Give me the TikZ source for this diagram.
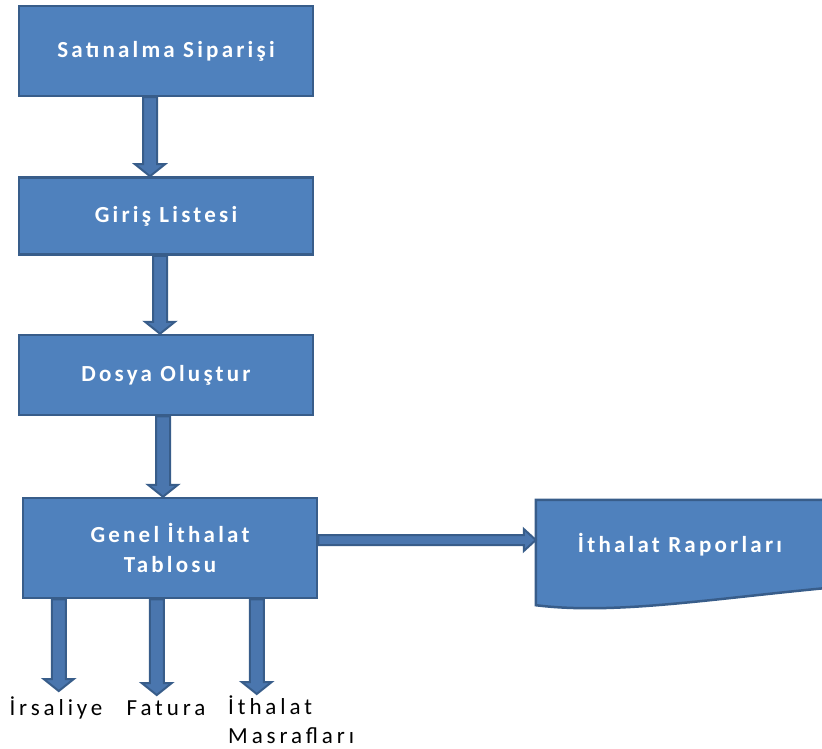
\documentclass[tikz,border=0pt]{standalone}
\usepackage{fontspec}
\usetikzlibrary{calc,backgrounds}
\newfontfamily\boxfont[LetterSpace=14]{Carlito}
\newfontfamily\labfont[LetterSpace=17]{Carlito}
\definecolor{boxfill}{HTML}{4F81BD}
\definecolor{boxline}{HTML}{385D8A}
\definecolor{arrfill}{HTML}{4A76AE}
\tikzset{
  stepbox/.style={draw=boxline, fill=boxfill, line width=2.5pt, text=white,
    font=\boxfont\bfseries\fontsize{23}{30}\selectfont, align=center, inner sep=0pt},
  lab/.style={font=\labfont\fontsize{23}{29}\selectfont, text=black, inner sep=0pt},
  blockarr/.style={draw=boxline, fill=arrfill, line width=2pt, line join=miter},
}
% vertical block arrow: #1 start point, #2 tip point
\newcommand{\blkdown}[2]{%
  \filldraw[blockarr] ($(#1)+(-7,0)$) -- ($(#2)+(-7,-12)$) -- ($(#2)+(-15,-12)$) -- (#2)
    -- ($(#2)+(15,-12)$) -- ($(#2)+(7,-12)$) -- ($(#1)+(7,0)$) -- cycle;}
\begin{document}
\begin{tikzpicture}[x=1pt,y=-1pt]
\useasboundingbox (0,0) rectangle (822,749);
\clip (0,0) rectangle (822,749);
% boxes
\node[stepbox, minimum width=294pt, minimum height=90pt] (s1) at (166,51) {Satınalma Siparişi};
\node[stepbox, minimum width=294pt, minimum height=77pt] (s2) at (166,216) {Giriş Listesi};
\node[stepbox, minimum width=294pt, minimum height=80pt] (s3) at (166,375) {Dosya Oluştur};
\node[stepbox, minimum width=294pt, minimum height=100pt] (s4) at (170,548) {Genel İthalat\\Tablosu};
% document shape
\node[font=\boxfont\bfseries\fontsize{23}{30}\selectfont, text=white, minimum width=288pt,
      minimum height=90pt, inner sep=0pt] (rap) at (680,545) {İthalat Raporları};
\begin{scope}[on background layer]
\filldraw[draw=boxline, fill=boxfill, line width=2.5pt]
  (rap.north west) -- ($(rap.north east)+(15,0)$) -- ($(rap.north east)+(15,87)$)
  .. controls ($(rap.south east)+(-110,8)$) and ($(rap.south west)+(80,25)$) .. ($(rap.south west)+(0,15)$)
  -- cycle;
\end{scope}
% labels
\node[lab, anchor=base] (l1) at (56,715) {İrsaliye};
\node[lab, anchor=base] (l2) at (166,715) {Fatura};
\node[lab, anchor=north west, align=left] (l3) at (228,696) {İthalat\\Masrafları};
% arrows down the chain
\coordinate (a1) at ($(s1.south)+(-16,0)$);
\blkdown{a1}{a1 |- s2.north}
\coordinate (a2) at ($(s2.south)+(-6,0)$);
\blkdown{a2}{a2 |- s3.north}
\coordinate (a3) at ($(s3.south)+(-3,0)$);
\blkdown{a3}{a3 |- s4.north}
% arrows to labels
\coordinate (b1) at ($(s4.south west)+(37,0)$);
\coordinate (b1e) at ($(b1 |- l1.north)+(0,-5)$);
\blkdown{b1}{b1e}
\coordinate (b2) at ($(s4.south west)+(135,0)$);
\coordinate (b2e) at ($(b2 |- l2.north)+(0,-5)$);
\blkdown{b2}{b2e}
\coordinate (b3) at ($(s4.south west)+(235,0)$);
\coordinate (b3e) at ($(b3 |- l3.north)+(0,-2)$);
\blkdown{b3}{b3e}
% horizontal arrow
\coordinate (h1) at ($(s4.east)+(0,-8)$);
\coordinate (h2) at (rap.west |- h1);
\filldraw[blockarr] ($(h1)+(0,-5)$) -- ($(h2)+(-12,-5)$) -- ($(h2)+(-12,-11)$) -- (h2)
  -- ($(h2)+(-12,11)$) -- ($(h2)+(-12,5)$) -- ($(h1)+(0,5)$) -- cycle;
\end{tikzpicture}
\end{document}
